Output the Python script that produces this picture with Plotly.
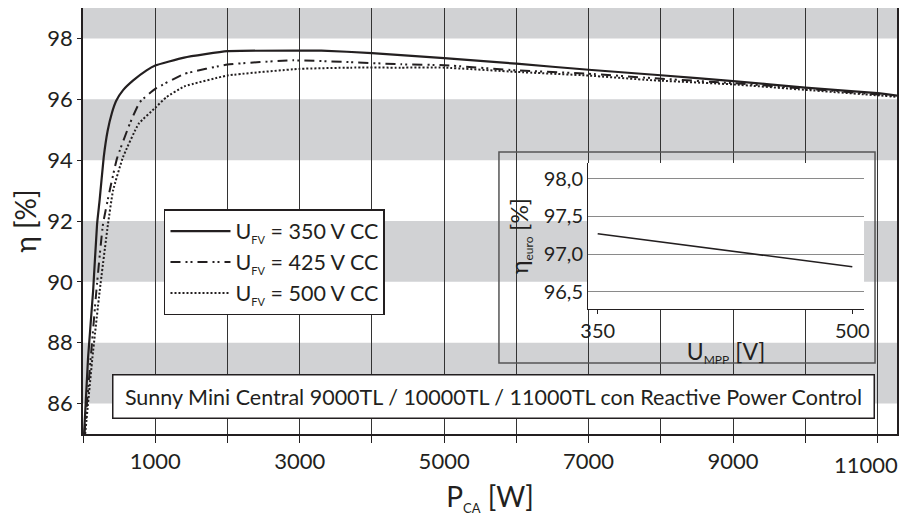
import plotly.graph_objects as go

INK = "#231f20"
BAND = "#d1d2d4"
FONT = "Lato"

# efficiency curves, P_CA [W] vs eta [%]
P_350 = [15, 70, 140, 195, 231, 287, 340, 400, 460, 555, 695, 880, 1000, 1400, 2000,
         3000, 3300, 4000, 5000, 6000, 7000, 8000, 9000, 10000, 11000, 11270]
ETA_350 = [85.0, 87.5, 89.7, 91.9, 92.7, 94.1, 94.95, 95.55, 95.95, 96.3, 96.62, 96.95, 97.11,
           97.37, 97.58, 97.6, 97.6, 97.52, 97.35, 97.17, 96.97, 96.79, 96.6, 96.38, 96.2, 96.12]

P_425 = [20, 107, 185, 277, 370, 470, 647, 785, 1000, 1400, 2000, 2900, 3700, 4400,
         5000, 6000, 7000, 7850, 9000, 10000, 11000, 11270]
ETA_425 = [85.0, 87.5, 89.7, 91.9, 93.0, 94.05, 95.19, 95.9, 96.34, 96.83, 97.14, 97.28,
           97.22, 97.15, 97.12, 96.95, 96.84, 96.7, 96.53, 96.35, 96.16, 96.1]

P_500 = [30, 130, 231, 346, 416, 554, 770, 1000, 1155, 1400, 2000, 3000, 3700, 4400,
         5000, 6000, 7000, 7850, 9000, 10000, 11000, 11270]
ETA_500 = [85.0, 87.5, 89.7, 91.9, 93.0, 94.1, 95.19, 95.72, 96.07, 96.42, 96.78, 97.0,
           97.04, 97.04, 97.04, 96.9, 96.78, 96.63, 96.49, 96.31, 96.13, 96.08]

# inset: euro efficiency vs MPP voltage
U_MPP = [350, 500]
ETA_EURO = [97.27, 96.83]

X_TICKS = list(range(0, 12000, 1000))
X_LAST = 11000  # its label sits a little left of the tick so it fits the page
X_LABELS = ["" if v % 2000 == 0 or v == X_LAST else str(v) for v in X_TICKS]
Y_TICKS = [86, 88, 90, 92, 94, 96, 98]
BANDS = [(86, 88), (90, 92), (94, 96), (98, 99)]
INSET_Y_TICKS = [96.5, 97.0, 97.5, 98.0]
INSET_Y_LABELS = ["96,5", "97,0", "97,5", "98,0"]


def sub(s, size):
    return f"<sub><span style='font-size:{size}px'>{s}</span></sub>"


SERIES = [
    (P_350, ETA_350, "350", "solid", 2.2),
    (P_425, ETA_425, "425", "10px,5px,2px,3px,2px,5px", 2),
    (P_500, ETA_500, "500", "2px,2px", 2),
]

fig = go.Figure()
for xs, ys, volt, dash, w in SERIES:
    fig.add_trace(go.Scatter(x=xs, y=ys, mode="lines",
                             name=f"U{sub('FV', 11)} = {volt} V CC",
                             line=dict(color=INK, width=w, dash=dash,
                                       shape="spline", smoothing=0.4)))

fig.add_trace(go.Scatter(x=U_MPP, y=ETA_EURO, mode="lines", showlegend=False,
                         xaxis="x3", yaxis="y3", line=dict(color=INK, width=1.5)))

for y0, y1 in BANDS:
    fig.add_shape(type="rect", xref="x domain", yref="y", x0=0, x1=1, y0=y0, y1=y1,
                  fillcolor=BAND, line_width=0, layer="below")

# frame of the inset box (its white fill comes from the x2/y2 subplot)
fig.add_shape(type="rect", xref="paper", yref="paper", x0=0.511, x1=0.973,
              y0=0.1667, y1=0.662, line=dict(color="#555", width=1.5),
              fillcolor="rgba(0,0,0,0)", layer="above")

fig.add_annotation(text="Sunny Mini Central 9000TL / 10000TL / 11000TL con Reactive Power Control",
                   xref="paper", yref="paper", x=0.5037, y=0.0869,
                   xanchor="center", yanchor="middle", showarrow=False,
                   font=dict(size=21.5, color=INK), bgcolor="white",
                   bordercolor=INK, borderwidth=1.5, borderpad=4, width=752, height=34)

fig.add_annotation(text=str(X_LAST), xref="x", yref="paper", x=X_LAST, y=0,
                   xanchor="center", yanchor="top", xshift=-12, yshift=-15,
                   showarrow=False, font=dict(size=22, color=INK))

# the page body adds an 8px margin, so the figure is 8px smaller than the window
fig.update_layout(
    width=900, height=509,
    margin=dict(l=75, r=11, t=0, b=83),
    paper_bgcolor="white", plot_bgcolor="white",
    font=dict(family=FONT, color=INK, size=22),
    legend=dict(x=0.0995, y=0.528, xanchor="left", yanchor="top",
                bgcolor="white", bordercolor=INK, borderwidth=1.5,
                font=dict(size=21.5), itemwidth=60),
    xaxis=dict(range=[0, 11270], tickvals=X_TICKS, ticktext=X_LABELS, automargin=False,
               showgrid=True, gridcolor="#333", gridwidth=1, zeroline=False,
               ticks="outside", ticklen=7, tickcolor=INK,
               showline=True, mirror=True, linecolor=INK, linewidth=1.5,
               title=dict(text=f"P{sub('CA', 13)} [W]", font=dict(size=28), standoff=14)),
    yaxis=dict(range=[85, 99], tickvals=Y_TICKS, showgrid=False, zeroline=False,
               automargin=False, ticks="outside", ticklen=4, tickcolor=INK,
               showline=True, mirror=True, linecolor=INK, linewidth=1.5,
               title=dict(text="η [%]", font=dict(size=28), standoff=19)),
    # white box behind the inset
    xaxis2=dict(domain=[0.511, 0.973], anchor="y2", range=[0, 1], showgrid=False,
                zeroline=False, showticklabels=False, ticks="", showline=False,
                automargin=False, fixedrange=True),
    yaxis2=dict(domain=[0.1667, 0.662], anchor="x2", range=[0, 1], showgrid=False,
                zeroline=False, showticklabels=False, ticks="", showline=False,
                automargin=False, fixedrange=True),
    xaxis3=dict(domain=[0.6204, 0.9595], anchor="y3", range=[344.3, 506.9],
                tickvals=U_MPP, ticks="outside", ticklen=4, tickcolor=INK, automargin=False,
                showgrid=False, zeroline=False, showline=True, linecolor=INK, linewidth=1,
                tickfont=dict(size=20),
                title=dict(text=f"U{sub('MPP', 12)} [V]", font=dict(size=23), standoff=2)),
    yaxis3=dict(domain=[0.2934, 0.6362], anchor="x3", range=[96.27, 98.21],
                tickvals=INSET_Y_TICKS, ticktext=INSET_Y_LABELS, ticks="", automargin=False,
                showgrid=True, gridcolor="#8a8a8a", gridwidth=1, zeroline=False,
                showline=True, linecolor=INK, linewidth=1, tickfont=dict(size=20),
                title=dict(text=f"η{sub('euro', 12)} [%]", font=dict(size=23), standoff=8)),
)

fig.write_html("out.html")
